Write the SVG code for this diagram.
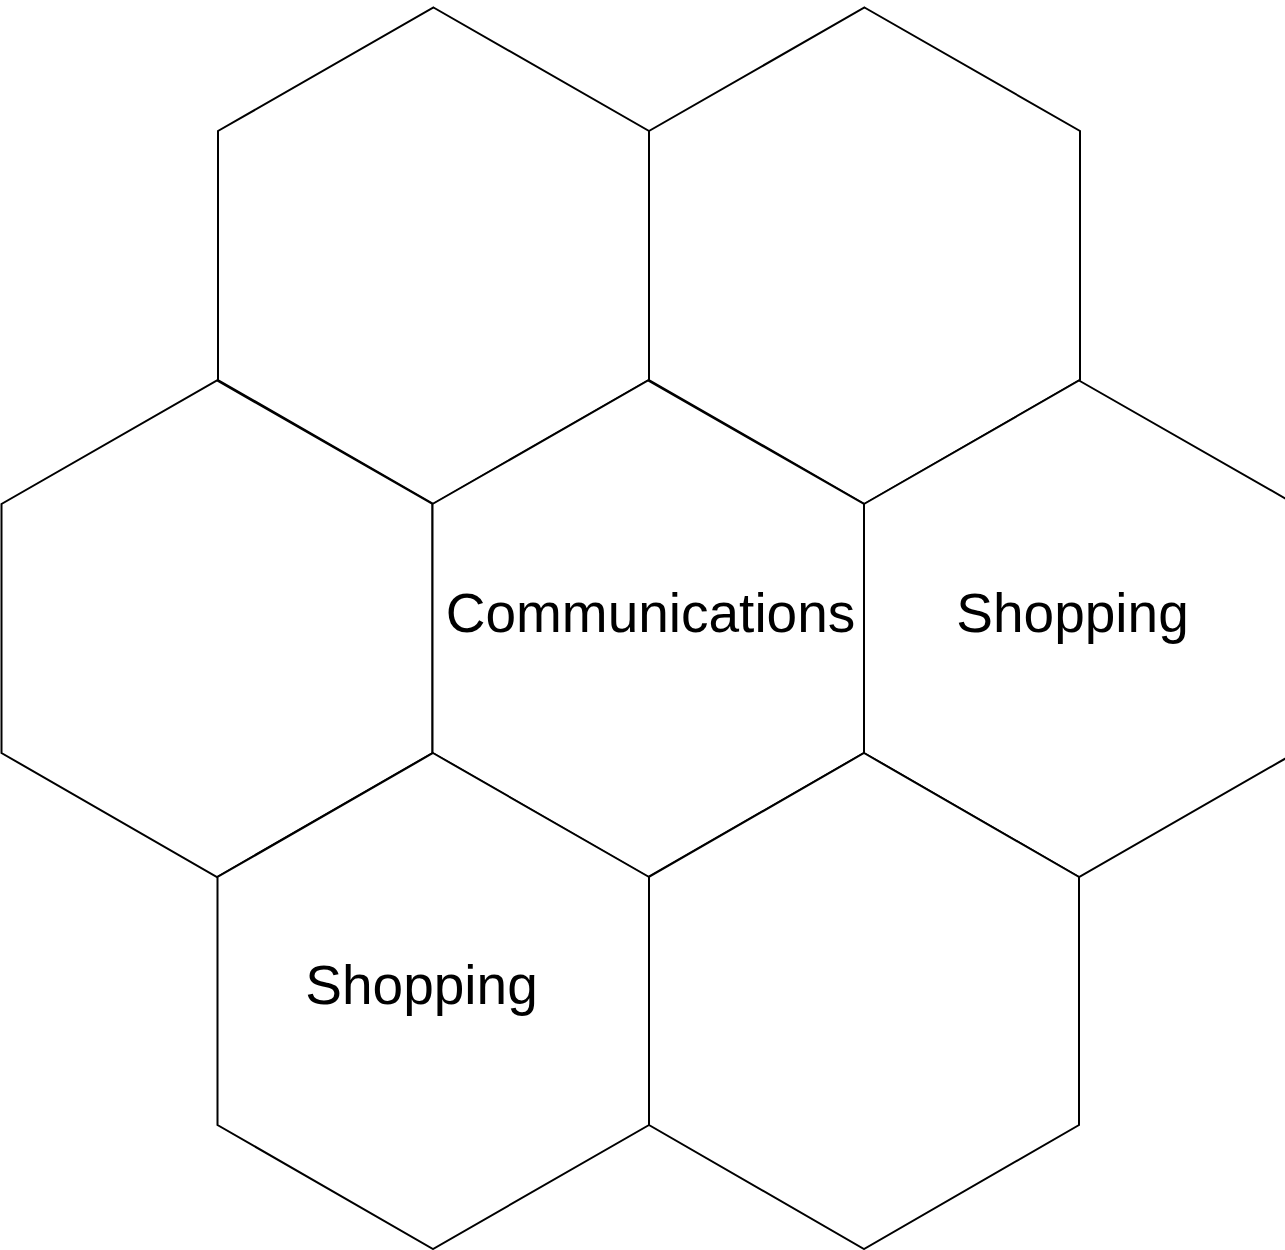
<svg xmlns="http://www.w3.org/2000/svg" width="1285" height="1250" viewBox="0 0 1285 1250">
<style>
.hex{fill:#ffffff;stroke:#000000;stroke-width:2;stroke-linejoin:miter}
.lbl{font-family:"Liberation Sans",Arial,sans-serif;font-size:55px;fill:#000000;text-anchor:middle}
</style>
<rect width="1285" height="1250" fill="#ffffff"/>
<g id="hex-top-left"><polygon class="hex" points="433.5,7.5 649,131 649,380 433.5,504 218,380 218,131"/></g>
<g id="hex-top-right"><polygon class="hex" points="864.5,7.5 1080,131 1080,380 864.5,504 649,380 649,131"/></g>
<g id="hex-mid-left"><polygon class="hex" points="217,380.5 432.5,504 432.5,753 217,877 1.5,753 1.5,504"/></g>
<g id="hex-center"><polygon class="hex" points="648,380.5 864,504 864,753 648,877 432.5,753 432.5,504"/><text class="lbl" x="650.5" y="632">Communications</text></g>
<g id="hex-right"><polygon class="hex" points="1079,380.5 1295,504 1295,753 1079,877 864,753 864,504"/><text class="lbl" x="1072.5" y="632">Shopping</text></g>
<g id="hex-bottom-left"><polygon class="hex" points="433,753 649,877 649,1125 433,1249 217.5,1125 217.5,877"/><text class="lbl" x="421.5" y="1004">Shopping</text></g>
<g id="hex-bottom-right"><polygon class="hex" points="864,753 1079,877 1079,1125 864,1249 649,1125 649,877"/></g>
<g id="connectors"></g>
</svg>
